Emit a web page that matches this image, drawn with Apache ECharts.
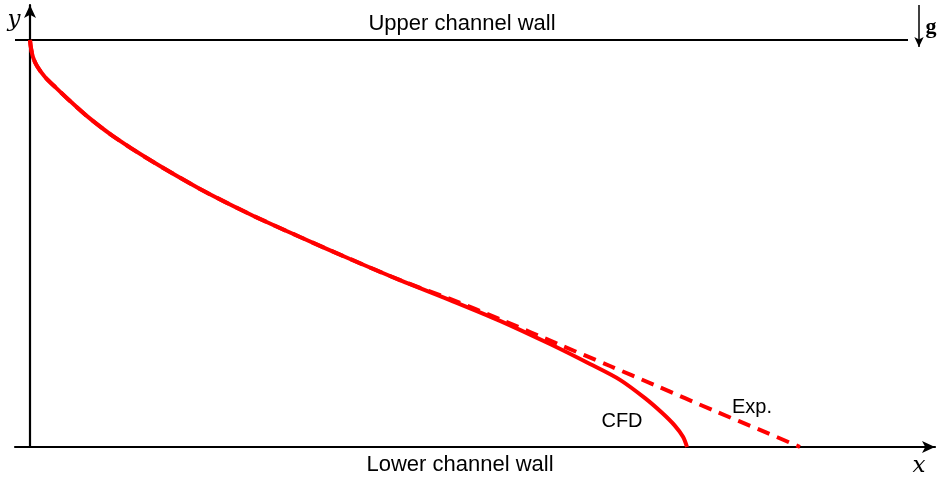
<!DOCTYPE html>
<html>
<head>
<meta charset="utf-8">
<script src="https://cdn.jsdelivr.net/npm/echarts@6/dist/echarts.min.js"></script>
<style>html,body{margin:0;padding:0;background:#fff;}#c{width:939px;height:477px;}</style>
</head>
<body>
<div id="c"></div>
<script>
// CFD profile (x: streamwise coordinate, y: normalised wall-normal position)
const cfdX = [0.00,0.01,0.03,0.07,0.15,0.25,0.37,0.57,0.83,1.20,1.70,2.20,2.70,3.20,3.70,4.20,4.70,5.20,5.60,5.90,6.15,6.32,6.45,6.53,6.57];
const cfdY = [1.000,0.980,0.958,0.936,0.909,0.885,0.857,0.813,0.764,0.705,0.634,0.572,0.516,0.462,0.410,0.361,0.310,0.253,0.204,0.165,0.120,0.084,0.052,0.025,0.000];
// Experimental profile
const expX = [0.00,0.01,0.03,0.07,0.15,0.25,0.37,0.57,0.83,1.20,1.70,2.20,2.70,3.20,3.70,4.20,4.70,5.30,5.80,6.23,6.87,7.30,7.70];
const expY = [1.000,0.980,0.958,0.936,0.909,0.885,0.857,0.813,0.764,0.705,0.634,0.572,0.516,0.462,0.410,0.364,0.314,0.251,0.199,0.154,0.086,0.042,0.000];
// Channel walls
const upperWallX = [-0.15, 8.78];
const upperWallY = [1, 1];
// Gravity arrow
const gravityX = [8.89, 8.89];
const gravityY = [1.086, 0.983];

const chart = echarts.init(document.getElementById('c'));
const zip = (a, b) => a.map((v, i) => [v, b[i]]);
chart.setOption({
  animation: false,
  grid: { left: 15, right: 4, top: 5, bottom: 30 },
  xAxis: {
    type: 'value', min: -0.15, max: 9.05,
    axisLine: { show: true, onZero: true, lineStyle: { color: '#000', width: 2.2 }, symbol: ['none', 'arrow'], symbolSize: [9, 13] },
    axisTick: { show: false }, axisLabel: { show: false }, splitLine: { show: false }
  },
  yAxis: {
    type: 'value', min: 0, max: 1.086,
    axisLine: { show: true, onZero: true, lineStyle: { color: '#000', width: 2.2 }, symbol: ['none', 'arrow'], symbolSize: [9, 13] },
    axisTick: { show: false }, axisLabel: { show: false }, splitLine: { show: false }
  },
  series: [
    {
      name: 'Upper wall', type: 'line', data: zip(upperWallX, upperWallY), showSymbol: false, silent: true,
      lineStyle: { color: '#000', width: 2.2 },
      markLine: {
        silent: true, symbol: ['none', 'arrow'], symbolSize: [7, 10],
        lineStyle: { color: '#000', width: 1.5, type: 'solid' }, label: { show: false },
        data: [[{ coord: [gravityX[0], gravityY[0]] }, { coord: [gravityX[1], gravityY[1]] }]]
      }
    },
    {
      name: 'Exp.', type: 'line', data: zip(expX, expY), showSymbol: false, smooth: 0.3,
      lineStyle: { color: '#ff0000', width: 4, type: [13, 8] }
    },
    {
      name: 'CFD', type: 'line', data: zip(cfdX, cfdY), showSymbol: false, smooth: 0.3,
      lineStyle: { color: '#ff0000', width: 4 }
    }
  ],
  graphic: [
    { type: 'text', x: 462, y: 24, style: { text: 'Upper channel wall', font: '22px "Liberation Sans", Arial, sans-serif', fill: '#000', align: 'center', verticalAlign: 'middle' } },
    { type: 'text', x: 460, y: 465, style: { text: 'Lower channel wall', font: '22px "Liberation Sans", Arial, sans-serif', fill: '#000', align: 'center', verticalAlign: 'middle' } },
    { type: 'text', x: 622, y: 421, style: { text: 'CFD', font: '20px "Liberation Sans", Arial, sans-serif', fill: '#000', align: 'center', verticalAlign: 'middle' } },
    { type: 'text', x: 752, y: 407, style: { text: 'Exp.', font: '20px "Liberation Sans", Arial, sans-serif', fill: '#000', align: 'center', verticalAlign: 'middle' } },
    { type: 'text', x: 14, y: 20, style: { text: 'y', font: 'italic 23px "DejaVu Serif", "Liberation Serif", serif', fill: '#000', align: 'center', verticalAlign: 'middle' } },
    { type: 'text', x: 919, y: 466, style: { text: 'x', font: 'italic 23px "DejaVu Serif", "Liberation Serif", serif', fill: '#000', align: 'center', verticalAlign: 'middle' } },
    { type: 'text', x: 931, y: 27, style: { text: 'g', font: 'bold 22px "Liberation Serif", "DejaVu Serif", serif', fill: '#000', align: 'center', verticalAlign: 'middle' } }
  ]
});
</script>
</body>
</html>
